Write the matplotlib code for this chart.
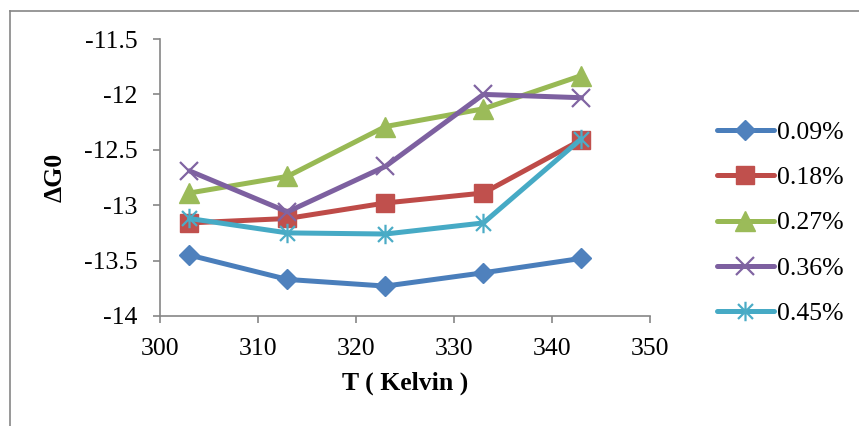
import matplotlib
matplotlib.use("Agg")
import matplotlib.pyplot as plt
from matplotlib.path import Path
from matplotlib.lines import Line2D
from matplotlib.ticker import FuncFormatter, MultipleLocator

plt.rcParams['font.family'] = ['Liberation Serif', 'DejaVu Serif']
plt.rcParams['axes.unicode_minus'] = False

# donnees
temperature = [303, 313, 323, 333, 343]
series_labels = ["0.09%", "0.18%", "0.27%", "0.36%", "0.45%"]
dg_009 = [-13.45, -13.67, -13.73, -13.61, -13.48]
dg_018 = [-13.16, -13.12, -12.98, -12.89, -12.41]
dg_027 = [-12.89, -12.74, -12.29, -12.13, -11.83]
dg_036 = [-12.69, -13.06, -12.65, -12.00, -12.03]
dg_045 = [-13.12, -13.25, -13.26, -13.16, -12.40]

# marqueur etoile facon Excel (x + trait vertical)
star = Path([(-1, -1), (1, 1), (-1, 1), (1, -1), (0, -1.3), (0, 1.3)],
            [Path.MOVETO, Path.LINETO, Path.MOVETO, Path.LINETO, Path.MOVETO, Path.LINETO])

styles = [
    dict(color="#4A7EBB", marker="D", ms=10, mfc="#4F81BD", mec="#4F81BD"),
    dict(color="#BE4B48", marker="s", ms=13.5, mfc="#C0504D", mec="#C0504D"),
    dict(color="#98B954", marker="^", ms=14.5, mfc="#9BBB59", mec="#9BBB59"),
    dict(color="#7D60A0", marker="x", ms=13.5, mec="#8064A2", mew=1.6),
    dict(color="#46AAC5", marker=star, ms=14, mec="#4BACC6", mew=1.6),
]
series = [dg_009, dg_018, dg_027, dg_036, dg_045]

fs = 18.5

fig = plt.figure(figsize=(8.59, 4.26), dpi=100)
ax = fig.add_axes([160 / 859, 1 - 316 / 426, 490 / 859, 277 / 426])

for vals, lab, st in zip(series, series_labels, styles):
    ax.plot(temperature, vals, lw=3.6, label=lab, solid_capstyle="round", **st)

ax.set_xlim(300, 350)
ax.set_ylim(-14, -11.5)
ax.xaxis.set_major_locator(MultipleLocator(10))
ax.yaxis.set_major_locator(MultipleLocator(0.5))
ax.yaxis.set_major_formatter(FuncFormatter(lambda v, p: "%g" % v))

grey = "#868686"
for s in ["top", "right"]:
    ax.spines[s].set_visible(False)
for s in ["left", "bottom"]:
    ax.spines[s].set_color(grey)
    ax.spines[s].set_linewidth(1.2)
ax.tick_params(colors=grey, labelcolor="black", labelsize=fs, length=5, width=1.2)
ax.tick_params(axis="y", pad=11)
ax.tick_params(axis="x", pad=11)

ax.set_xlabel("T ( Kelvin )", fontsize=fs, fontweight="bold")
ax.xaxis.set_label_coords(0.5, -0.2)
ax.set_ylabel("ΔG0", fontsize=fs, fontweight="bold")
ax.yaxis.set_label_coords(-0.19, 0.5)

ax.legend(loc="center left", bbox_to_anchor=(717 / 859, 1 - 223 / 426),
          bbox_transform=fig.transFigure, frameon=False, fontsize=fs,
          handlelength=2.2, handletextpad=0.15, labelspacing=0.86, borderaxespad=0,
          borderpad=0)

# cadre exterieur
fig.add_artist(Line2D([10 / 859, 10 / 859], [0, 1 - 10.5 / 426], color=grey, lw=1.2))
fig.add_artist(Line2D([10 / 859, 1], [1 - 10.5 / 426, 1 - 10.5 / 426], color=grey, lw=1.2))

fig.savefig("out.png", dpi=100)
